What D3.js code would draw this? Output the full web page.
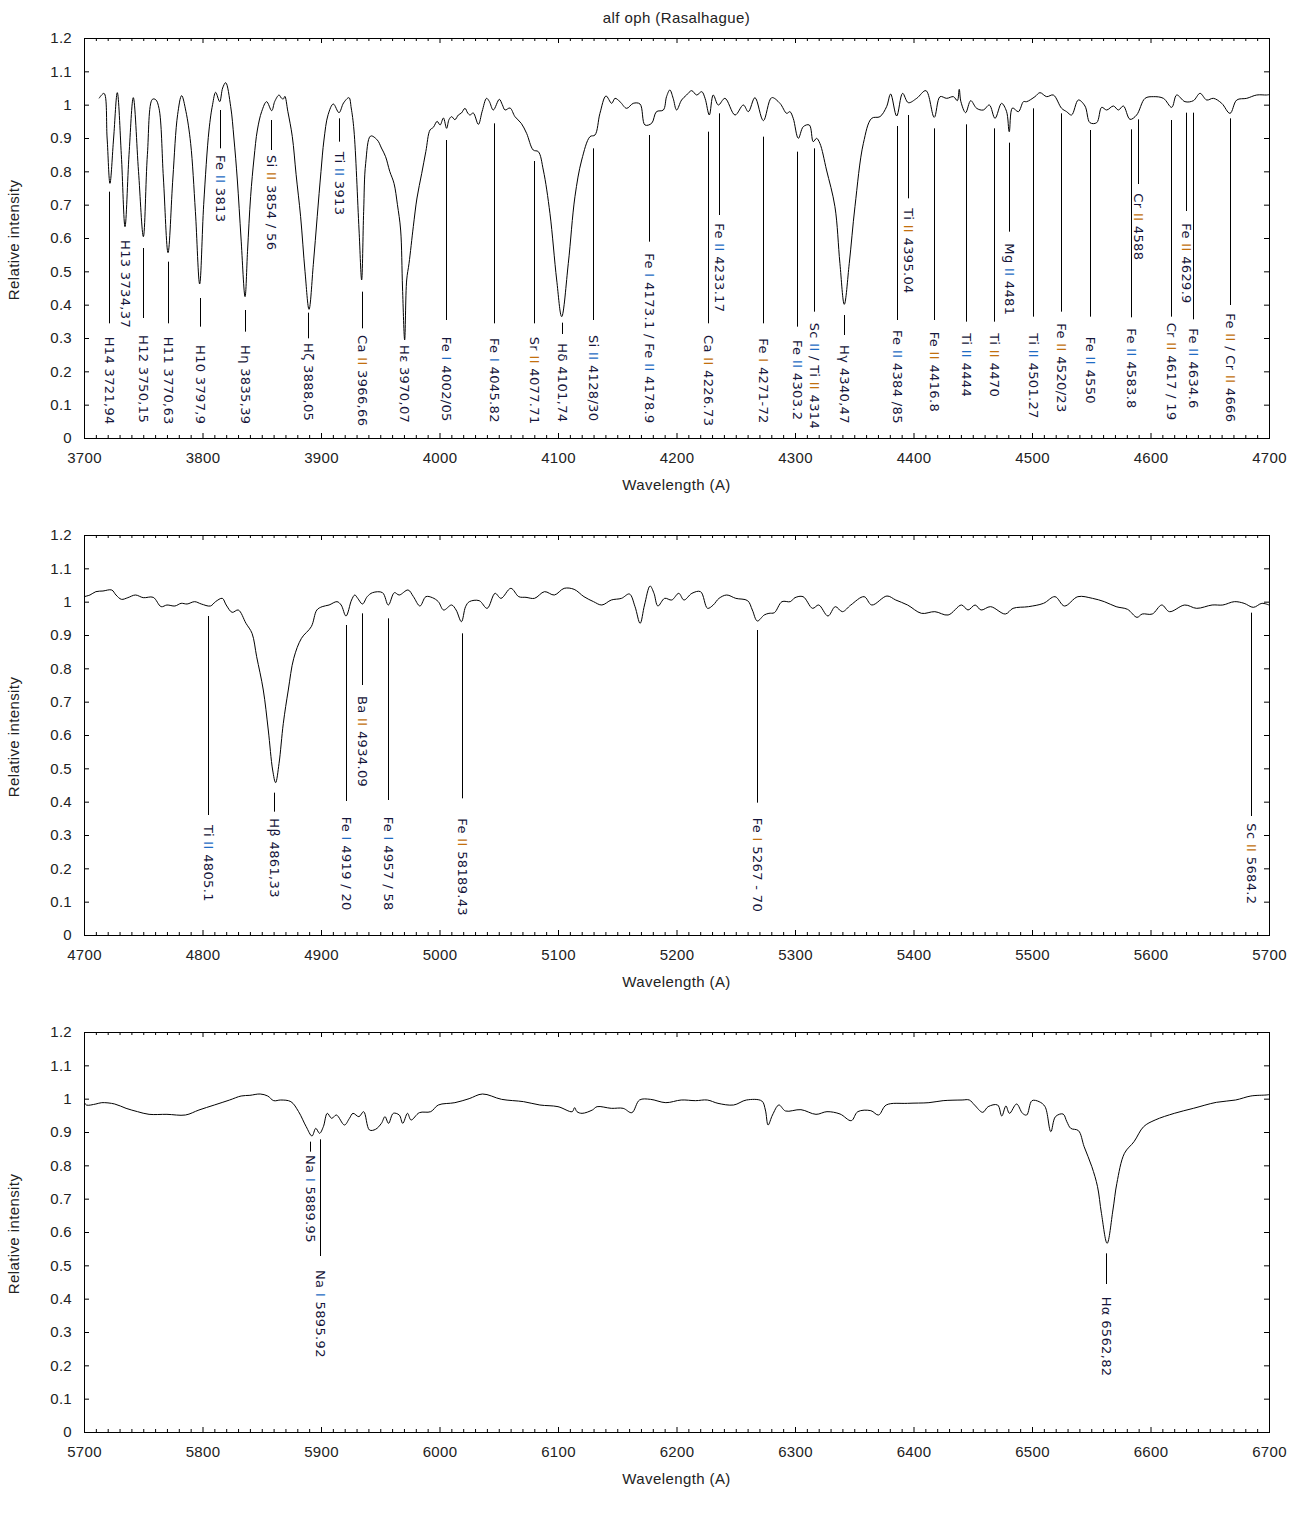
<!DOCTYPE html>
<html><head><meta charset="utf-8">
<script src="https://cdn.jsdelivr.net/npm/d3@7"></script>
<style>body{margin:0;background:#fff}svg{display:block}</style>
</head><body>
<svg id="chart" width="1300" height="1530"></svg>
<script>
// ---------------- DATA ----------------
const chartTitle = "alf oph (Rasalhague)";
const xAxisTitle = "Wavelength (A)";
const yAxisTitle = "Relative intensity";
const yTickValues = [0, 0.1, 0.2, 0.3, 0.4, 0.5, 0.6, 0.7, 0.8, 0.9, 1, 1.1, 1.2];
const xRanges = [[3700, 4700], [4700, 5700], [5700, 6700]];

const spectrum1 = [
[3712.7,1.019],[3716.9,1.034],[3719.5,0.90],[3721.9,0.764],[3725,0.90],[3728.1,1.036],[3731.5,0.85],[3734.6,0.634],
[3738,0.85],[3741.6,1.021],[3746,0.80],[3750.1,0.604],[3753.5,0.85],[3757.7,1.016],[3760.5,1.015],[3763.3,0.989],
[3767,0.78],[3770.9,0.556],[3775,0.78],[3779,0.97],[3782.4,1.027],[3786,0.98],[3790,0.884],[3794,0.68],[3797.6,0.462],
[3801,0.70],[3805.5,0.924],[3808.5,1.00],[3811.1,1.037],[3814.5,1.009],[3817,1.05],[3819.6,1.066],[3823.8,0.994],
[3826.5,0.90],[3829.4,0.774],[3832.5,0.60],[3835.9,0.424],[3838,0.56],[3840.6,0.724],[3843.5,0.84],[3846.3,0.924],
[3850,0.98],[3854.1,1.009],[3858.4,0.982],[3861,1.01],[3864.6,1.029],[3866.5,1.02],[3868.2,1.017],[3869.5,1.025],
[3872,0.98],[3875.8,0.904],[3879,0.79],[3882.8,0.664],[3886.5,0.50],[3889.9,0.386],[3893.5,0.52],[3896.8,0.664],
[3900,0.80],[3902.5,0.894],[3906,0.97],[3910.4,1.002],[3915.2,0.976],[3919,1.005],[3923.6,1.021],[3925.5,0.99],
[3927.8,0.924],[3932.1,0.624],[3934.3,0.474],[3936,0.68],[3937.7,0.824],[3941.9,0.906],[3947.5,0.894],[3951,0.87],
[3954.5,0.844],[3958,0.80],[3961.6,0.764],[3964.5,0.70],[3967.2,0.624],[3968.8,0.45],[3970.6,0.294],[3972.3,0.474],
[3974.3,0.524],[3977.9,0.634],[3981,0.72],[3985,0.794],[3988.5,0.86],[3992,0.924],[3994.8,0.932],[3998,0.95],
[4000.5,0.939],[4003.3,0.96],[4006,0.929],[4008,0.955],[4010.2,0.964],[4013,0.955],[4015.9,0.969],[4018.5,0.975],
[4021.5,0.989],[4023.8,0.975],[4025.7,0.969],[4028.5,0.975],[4032.8,0.941],[4036,0.98],[4039.7,1.019],[4042,1.01],
[4045.4,0.984],[4050.5,1.016],[4053,1.0],[4055.3,0.984],[4059.5,0.99],[4063.7,0.964],[4069,0.944],[4073.5,0.914],
[4079.1,0.864],[4083.4,0.859],[4087.6,0.804],[4093.2,0.674],[4098.9,0.474],[4103.1,0.364],[4108.7,0.524],[4114.3,0.724],
[4120,0.834],[4127,0.904],[4131.2,0.909],[4135.4,0.974],[4140.5,1.026],[4145.3,1.004],[4148.1,1.019],[4152.3,1.009],
[4157.9,0.989],[4163.5,1.004],[4169.2,1.002],[4173.4,0.939],[4179,0.944],[4183.1,0.979],[4188.9,0.984],[4191.6,1.024],
[4194.4,1.044],[4197.2,1.019],[4200.1,0.984],[4204.3,1.014],[4208.5,1.029],[4212.8,1.042],[4217,1.029],[4221.3,1.039],
[4224.1,1.019],[4227.7,0.969],[4231,1.029],[4235.3,0.999],[4240.9,1.019],[4249.4,0.969],[4256.4,0.999],[4260.6,0.979],
[4266.2,1.021],[4273.3,0.952],[4280.3,1.021],[4287.3,1.004],[4293,0.974],[4295.7,0.979],[4298.5,0.959],[4302.8,0.899],
[4307,0.934],[4312.1,0.939],[4315.4,0.889],[4318.2,0.899],[4321,0.884],[4326.6,0.804],[4333.7,0.694],[4337.9,0.524],
[4341.6,0.401],[4345.8,0.524],[4350.6,0.694],[4357.7,0.884],[4364.7,0.959],[4371.7,0.964],[4377.3,0.994],[4380.7,1.032],
[4385.8,0.966],[4390.8,1.034],[4395.6,1.006],[4402.7,1.019],[4410.5,1.042],[4417.5,0.962],[4422.4,1.024],[4428,1.019],
[4433.7,1.024],[4437,1.012],[4438.6,1.046],[4440,1.009],[4444,0.976],[4448.3,1.012],[4453.3,0.989],[4458.9,0.984],
[4464,0.999],[4468.8,0.959],[4474.3,1.004],[4478.5,0.98],[4480.8,0.919],[4483.5,0.99],[4488.5,0.979],[4492.8,1.009],
[4495.5,1.009],[4502.5,1.024],[4506.7,1.036],[4512.4,1.024],[4518,1.029],[4525,0.989],[4529.2,0.979],[4533.4,0.969],
[4539.1,1.014],[4544.7,0.996],[4548.9,0.946],[4554.6,0.946],[4558.8,0.992],[4563,0.984],[4568.7,0.996],[4572.9,0.984],
[4577.1,0.996],[4582.7,0.956],[4588.3,0.969],[4595.4,1.019],[4602.4,1.024],[4610.9,1.019],[4617.9,0.992],[4622.1,1.029],
[4629.1,1.009],[4636.2,1.012],[4641.8,1.034],[4647.4,1.014],[4653.1,1.019],[4660.1,1.004],[4667.1,0.974],[4672.8,1.014],
[4681.2,1.019],[4689.6,1.029],[4698,1.029],[4700,1.03]
];

const spectrum2 = [
[4700,1.015],[4705,1.02],[4710,1.03],[4716,1.032],[4723.4,1.035],[4727,1.02],[4731.6,1.007],[4737,1.012],[4743.4,1.02],
[4750,1.012],[4758.4,1.013],[4765.1,0.985],[4770,0.99],[4776.7,0.987],[4782,0.995],[4787,0.993],[4793.4,1.0],[4799,0.993],
[4806.7,0.987],[4811,1.0],[4816.7,1.01],[4820,0.99],[4825,0.968],[4830.2,0.975],[4836.7,0.935],[4841.8,0.905],
[4845.7,0.835],[4851.3,0.735],[4855.5,0.615],[4859.2,0.495],[4861.7,0.457],[4864.6,0.515],[4868.2,0.635],[4872.4,0.735],
[4877,0.83],[4883.5,0.89],[4891.8,0.925],[4896.5,0.975],[4901,0.985],[4906.8,0.99],[4913.5,1.0],[4917,0.99],[4921.1,0.957],
[4925.8,1.005],[4928.5,1.02],[4931,1.01],[4935,0.993],[4939,1.015],[4943.5,1.027],[4951.9,1.027],[4956.8,0.99],
[4961.9,1.027],[4966,1.02],[4973.5,1.035],[4978,1.015],[4983.5,0.987],[4988.5,1.015],[4994,1.012],[4999,1.0],
[5003.5,0.975],[5010.2,0.99],[5014,0.975],[5018.5,0.94],[5022,0.985],[5025.2,1.0],[5033.5,1.003],[5040.2,0.98],
[5046.9,1.025],[5051.9,1.01],[5060.2,1.04],[5066.9,1.015],[5073,1.013],[5080.2,1.01],[5088.6,1.03],[5096.9,1.02],
[5105.2,1.04],[5113.6,1.037],[5121.9,1.015],[5130,1.0],[5137,0.99],[5145,1.005],[5153.6,1.01],[5160.3,1.023],[5165,0.985],
[5169.3,0.935],[5173,0.99],[5177.7,1.047],[5181,1.025],[5184.3,0.987],[5190,1.01],[5196,1.005],[5201.9,1.025],
[5206.3,1.005],[5213,1.025],[5220.3,1.03],[5226.2,0.98],[5231,0.99],[5235.9,1.01],[5242.4,1.02],[5250,1.01],[5260,1.003],
[5264,0.975],[5268.2,0.942],[5274,0.96],[5278,0.965],[5282.6,0.967],[5289,1.0],[5296,1.0],[5300,1.012],[5306.8,1.015],
[5314.8,0.98],[5320,0.99],[5327.8,0.957],[5334,0.985],[5340,0.97],[5347.1,0.99],[5358.3,1.015],[5364.8,0.99],
[5377.6,1.017],[5385,1.005],[5395,0.99],[5406.7,0.965],[5418,0.97],[5429.2,0.96],[5440.5,0.99],[5446,0.975],[5452,0.99],
[5457,0.975],[5465,0.985],[5477.5,0.963],[5484,0.98],[5497,0.985],[5509.7,0.995],[5519.4,1.015],[5527.4,0.987],
[5538.7,1.015],[5551,1.01],[5561,1.0],[5571,0.985],[5580.6,0.977],[5588.6,0.953],[5593,0.963],[5601.5,0.963],
[5609.5,0.99],[5616,0.97],[5628.9,0.99],[5639,0.98],[5652,0.99],[5661,0.99],[5670.8,1.0],[5679,0.995],[5686.8,0.983],
[5694,0.995],[5700,0.99]
];

const spectrum3 = [
[5700,0.991],[5702,0.981],[5710,0.984],[5715,0.988],[5725.9,0.984],[5735.5,0.971],[5745.2,0.961],[5754.9,0.953],
[5770,0.953],[5785.6,0.951],[5797,0.966],[5810,0.981],[5822.9,0.996],[5832.6,1.008],[5840,1.01],[5848.7,1.014],
[5855,1.008],[5860.1,0.994],[5866,0.996],[5874.6,0.991],[5881.1,0.961],[5887.5,0.916],[5892.4,0.888],[5895.6,0.911],
[5898.8,0.896],[5902,0.916],[5905.3,0.956],[5909,0.941],[5913,0.951],[5919.8,0.921],[5924,0.941],[5927,0.956],
[5932,0.946],[5936,0.961],[5940.9,0.906],[5946,0.908],[5951,0.926],[5954,0.946],[5957,0.926],[5961,0.956],[5966,0.951],
[5969,0.926],[5973,0.956],[5976,0.936],[5983,0.958],[5992.6,0.961],[5999,0.981],[6013,0.988],[6025,1.0],[6036.3,1.014],
[6052.4,0.998],[6071,0.991],[6084.7,0.981],[6100,0.976],[6112,0.961],[6114,0.973],[6116,0.961],[6120.3,0.956],
[6129,0.966],[6133,0.976],[6145,0.971],[6155,0.971],[6162.3,0.958],[6168.8,0.996],[6178,0.998],[6191,0.988],[6204,0.996],
[6216,0.994],[6226,0.996],[6235,0.986],[6248.2,0.981],[6259,0.996],[6272,0.993],[6275,0.966],[6277.3,0.921],[6281,0.951],
[6286.4,0.981],[6292,0.963],[6305,0.967],[6317.7,0.953],[6327,0.961],[6338,0.954],[6347.5,0.934],[6353,0.961],
[6364,0.964],[6370.5,0.951],[6377,0.981],[6395,0.986],[6413,0.988],[6425,0.994],[6441,0.996],[6447.1,0.996],
[6451.5,0.981],[6458.4,0.959],[6463,0.976],[6471,0.981],[6474.5,0.948],[6478,0.978],[6481,0.956],[6487,0.984],
[6492,0.956],[6495.5,0.951],[6500,0.994],[6506,0.991],[6511,0.976],[6515.9,0.901],[6519.8,0.946],[6526.2,0.954],
[6529.4,0.931],[6532.7,0.911],[6539.2,0.904],[6544,0.856],[6550.5,0.796],[6555.3,0.736],[6558.6,0.656],[6563.4,0.566],
[6568.3,0.666],[6571.6,0.746],[6578,0.836],[6586.1,0.871],[6594.2,0.916],[6603.9,0.936],[6620.1,0.956],[6636.2,0.971],
[6655.6,0.989],[6671.8,0.996],[6684.7,1.008],[6697.6,1.011],[6700,1.012]
];

// line identifications: [wavelength, label, marker top, marker bottom, label start (intensity units), ion colour codes]
const lines1 = [
[3721.4,"H14 3721,94",0.739,0.344,0.304,""],
[3734.6,"H13 3734,37",null,null,0.594,""],
[3749.5,"H12 3750,15",0.570,0.360,0.309,""],
[3770.9,"H11 3770,63",0.529,0.344,0.304,""],
[3797.6,"H10 3797,9",0.420,0.334,0.279,""],
[3814.8,"Fe II 3813",0.984,0.869,0.849,"b"],
[3835.6,"Hη 3835,39",0.384,0.319,0.279,""],
[3858.1,"Si II 3854 / 56",0.954,0.864,0.849,"o"],
[3889.3,"Hζ 3888,05",0.376,0.299,0.285,""],
[3915.4,"Ti II 3913",0.959,0.889,0.859,"b"],
[3934.8,"Ca II 3966,66",0.439,0.329,0.309,"o"],
[3970.0,"Hε 3970,07",null,null,0.279,""],
[4005.2,"Fe I 4002/05",0.894,0.354,0.304,"b"],
[4046.2,"Fe I 4045.82",0.944,0.344,0.300,"b"],
[4080.0,"Sr II 4077.71",0.831,0.344,0.304,"o"],
[4103.1,"Hδ 4101,74",0.346,0.312,0.284,""],
[4129.8,"Si II 4128/30",0.869,0.354,0.309,"b"],
[4177.0,"Fe I 4173.1 / Fe II 4178.9",0.909,0.589,0.554,"bb"],
[4226.8,"Ca II 4226.73",0.919,0.344,0.309,"o"],
[4236.1,"Fe II 4233.17",0.974,0.669,0.644,"b"],
[4273.3,"Fe I 4271-72",0.904,0.344,0.299,"o"],
[4301.9,"Fe II 4303.2",0.859,0.334,0.294,"b"],
[4316.3,"Sc II / Ti II 4314",0.869,0.379,0.346,"bo"],
[4341.6,"Hγ 4340,47",0.369,0.309,0.279,""],
[4385.8,"Fe II 4384 /85",0.936,0.354,0.324,"b"],
[4395.6,"Ti II 4395.04",0.969,0.719,0.689,"o"],
[4417.5,"Fe II 4416.8",0.929,0.354,0.319,"o"],
[4444.0,"Ti II 4444",0.941,0.349,0.314,"b"],
[4468.2,"Ti II 4470",0.929,0.349,0.314,"o"],
[4480.8,"Mg II 4481",0.886,0.619,0.584,"b"],
[4501.1,"Ti II 4501.27",0.989,0.364,0.314,"b"],
[4524.2,"Fe II 4520/23",0.974,0.379,0.344,"o"],
[4548.9,"Fe II 4550",0.924,0.364,0.304,"b"],
[4583.5,"Fe II 4583.8",0.926,0.362,0.329,"b"],
[4589.2,"Cr II 4588",0.956,0.762,0.734,"o"],
[4617.3,"Cr II 4617 / 19",0.954,0.364,0.346,"o"],
[4630.2,"Fe II 4629.9",0.976,0.681,0.644,"o"],
[4636.1,"Fe II 4634.6",0.976,0.356,0.329,"b"],
[4667.3,"Fe II / Cr II 4666",0.959,0.399,0.374,"oo"]
];
const lines2 = [
[4804.9,"Ti II 4805.1",0.957,0.360,0.330,"b"],
[4860.6,"Hβ 4861,33",0.427,0.370,0.350,""],
[4921.1,"Fe I 4919 / 20",0.930,0.402,0.355,"b"],
[4934.9,"Ba II 4934.09",0.965,0.750,0.717,"o"],
[4956.8,"Fe I 4957 / 58",0.950,0.405,0.355,"b"],
[5018.7,"Fe II 58189.43",0.905,0.410,0.350,"o"],
[5268.2,"Fe I 5267 - 70",0.915,0.397,0.352,"o"],
[5685.2,"Sc II 5684.2",0.967,0.357,0.335,"o"]
];
const lines3 = [
[5890.7,"Na I 5889.95",0.871,0.841,0.831,"b"],
[5899.2,"Na I 5895.92",0.878,0.528,0.486,"b"],
[6562.4,"Hα 6562,82",0.536,0.444,0.406,""]
];

// ---------------- LAYOUT / STYLE ----------------
const panelTops = [38, 535, 1032];
const spectra = [spectrum1, spectrum2, spectrum3];
const lineSets = [lines1, lines2, lines3];
const L = 84, R = 1269, H = 400;
const ionColor = {b: "#1f6cc4", o: "#c2700e"};
const labelColor = "#15153a";
const axisFont = "'Liberation Sans', Arial, sans-serif";

const svg = d3.select("#chart");
svg.append("rect").attr("width",1300).attr("height",1530).attr("fill","#fff");

svg.append("text").attr("x",(L+R)/2).attr("y",23).attr("text-anchor","middle")
  .attr("font-family",axisFont).attr("font-size",15).attr("letter-spacing","0.4px").attr("fill","#222")
  .text(chartTitle);

panelTops.forEach((top, i) => {
  const x = d3.scaleLinear().domain(xRanges[i]).range([L, R]);
  const y = d3.scaleLinear().domain([0, 1.2]).range([top + H, top]);
  const g = svg.append("g");
  const majors = d3.range(xRanges[i][0], xRanges[i][1] + 1, 100);
  const minors = d3.range(xRanges[i][0], xRanges[i][1] + 1, 10).filter(v => (v - xRanges[i][0]) % 100 !== 0);

  const styleAxis = sel => {
    sel.select(".domain").remove();
    sel.selectAll(".tick line").attr("stroke","#000");
    sel.selectAll("text").attr("font-family",axisFont).attr("font-size",15).attr("fill","#222").attr("letter-spacing","0.3px");
  };
  g.append("g").attr("transform",`translate(0,${top+H})`)
    .call(d3.axisBottom(x).tickValues(majors).tickSize(-5).tickPadding(14).tickFormat(d3.format("d"))).call(styleAxis);
  g.append("g").attr("transform",`translate(0,${top+H})`)
    .call(d3.axisBottom(x).tickValues(minors).tickSize(-3).tickFormat("")).call(styleAxis);
  g.append("g").attr("transform",`translate(0,${top})`)
    .call(d3.axisTop(x).tickValues(majors).tickSize(-5).tickFormat("")).call(styleAxis);
  g.append("g").attr("transform",`translate(0,${top})`)
    .call(d3.axisTop(x).tickValues(minors).tickSize(-3).tickFormat("")).call(styleAxis);
  g.append("g").attr("transform",`translate(${L},0)`)
    .call(d3.axisLeft(y).tickValues(yTickValues).tickSize(-5).tickPadding(12).tickFormat(d3.format("~g"))).call(styleAxis);
  g.append("g").attr("transform",`translate(${R},0)`)
    .call(d3.axisRight(y).tickValues(yTickValues).tickSize(-5).tickFormat("")).call(styleAxis);

  g.append("rect").attr("x",L+0.5).attr("y",top+0.5).attr("width",R-L).attr("height",H)
    .attr("fill","none").attr("stroke","#000").attr("stroke-width",1);

  g.append("text").attr("x",(L+R)/2).attr("y",top+H+52).attr("text-anchor","middle")
    .attr("font-family",axisFont).attr("font-size",15).attr("letter-spacing","0.4px").attr("fill","#222").text(xAxisTitle);
  g.append("text").attr("transform",`translate(19,${top+H/2+2}) rotate(-90)`).attr("text-anchor","middle")
    .attr("font-family",axisFont).attr("font-size",15).attr("letter-spacing","0.4px").attr("fill","#222").text(yAxisTitle);

  const clipId = "clip" + i;
  svg.append("clipPath").attr("id",clipId).append("rect").attr("x",L).attr("y",top).attr("width",R-L).attr("height",H);
  g.append("path").datum(spectra[i]).attr("clip-path",`url(#${clipId})`)
    .attr("fill","none").attr("stroke","#000").attr("stroke-width",1).attr("stroke-linejoin","round")
    .attr("d", d3.line().curve(d3.curveCatmullRom.alpha(0.5)).x(d => x(d[0])).y(d => y(d[1])));

  lineSets[i].forEach(([w, label, t, b, s, cols]) => {
    const px = Math.round(x(w)) + 0.5;
    if (t !== null) {
      g.append("line").attr("x1",px).attr("x2",px).attr("y1",y(t)).attr("y2",y(b))
        .attr("stroke","#000").attr("stroke-width",1);
    }
    const txt = g.append("text").attr("transform",`translate(${px},${y(s)}) rotate(90)`)
      .attr("dy","0.36em").attr("font-family","'DejaVu Sans', Verdana, sans-serif").attr("font-size",13)
      .attr("letter-spacing","0.35px").attr("fill",labelColor);
    let k = 0;
    label.split(/(\bI{1,2}\b)/).forEach(part => {
      if (part === "") return;
      const sp = txt.append("tspan").text(part);
      if (/^I{1,2}$/.test(part)) { sp.attr("fill", ionColor[cols[k]] || labelColor); k++; }
    });
  });
});
</script>
</body></html>
